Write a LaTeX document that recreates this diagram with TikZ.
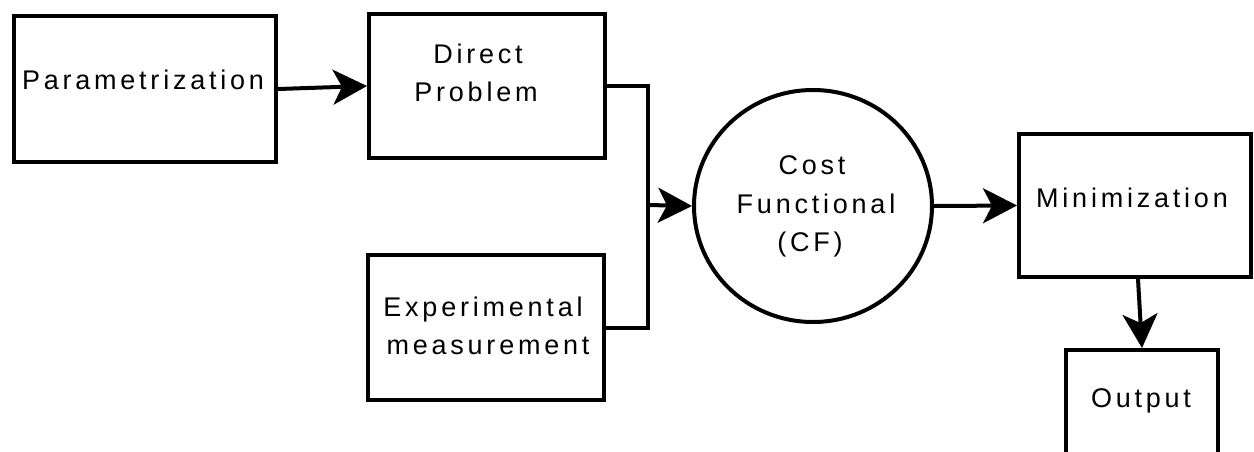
\documentclass[tikz,border=0pt]{standalone}
\usepackage{fontspec}
\newfontfamily\lbfont{Liberation Sans}[LetterSpace=14]
\usetikzlibrary{arrows.meta,shapes.geometric}
\tikzset{
  boxnode/.style={draw, line width=4pt, rectangle, inner sep=0pt, fill=white},
  cfnode/.style={draw, line width=4pt, ellipse, inner sep=0pt, fill=white},
  lbl/.style={font=\lbfont\fontsize{27}{38}\selectfont, inner sep=0pt, anchor=base},
  conn/.style={line width=4pt, line join=miter},
  arr/.style={conn, -{Stealth[length=34pt, width=35pt, inset=9pt]}},
}
\begin{document}
\begin{tikzpicture}[x=1pt, y=-1pt]
\clip (0,0) rectangle (1254,451);
\fill[white] (0,0) rectangle (1254,451);
% boxes
\node[boxnode, minimum width=262pt, minimum height=146pt] (par) at (145,89) {};
\node[boxnode, minimum width=236pt, minimum height=144pt] (dir) at (487,86) {};
\node[boxnode, minimum width=236pt, minimum height=145pt] (exp) at (486,327.5) {};
\node[cfnode, minimum width=238pt, minimum height=232pt] (cf) at (813,206) {};
\node[boxnode, minimum width=232pt, minimum height=143pt] (min) at (1135,205.5) {};
\node[boxnode, minimum width=152pt, minimum height=150pt] (out) at (1142,425) {};
% labels
\node[lbl] (tpar) at (143,89) {Parametrization};
\node[lbl] (tdir1) at (478,63) {Direct};
\node[lbl] (tdir2) at (476,101) {Problem};
\node[lbl] (texp1) at (483,316) {Experimental};
\node[lbl] (texp2) at (488,354) {measurement};
\node[lbl] (tcf1) at (812,174) {Cost};
\node[lbl] (tcf2) at (816,213) {Functional};
\node[lbl] (tcf3) at (810,251) {(CF)};
\node[lbl] (tmin) at (1132,207) {Minimization};
\node[lbl] (tout) at (1141,407) {Output};
% connectors
\coordinate (j) at (648,205);
\draw[arr] (par.east) -- (dir.west);
\draw[conn] (dir.east) -| (j);
\draw[conn] (exp.east) -| (j);
\draw[arr] (j) -- (cf.west);
\draw[arr] (cf.east) -- (min.west);
\draw[arr] ([xshift=3pt]min.south) -- (out.north);
\end{tikzpicture}
\end{document}
